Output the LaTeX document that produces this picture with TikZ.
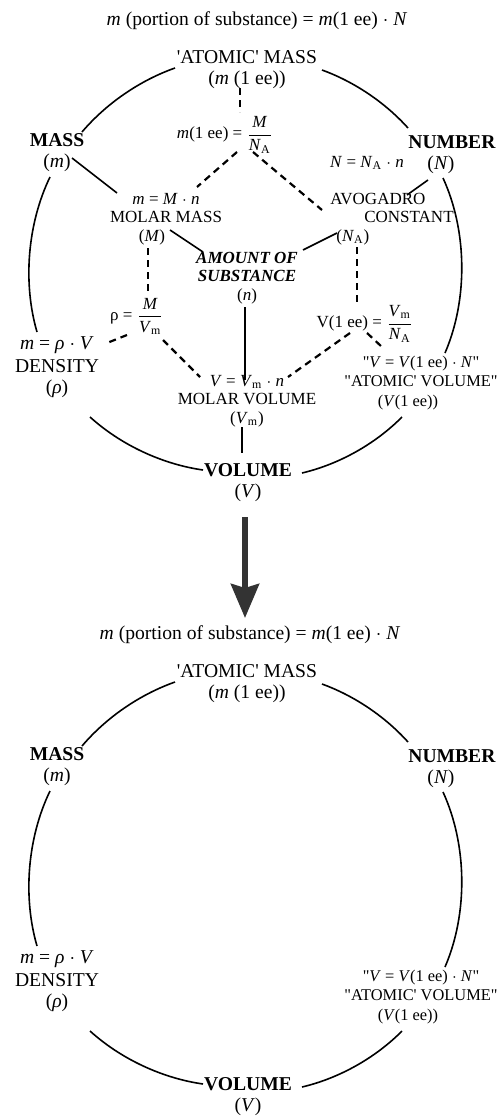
\documentclass[tikz,border=0pt]{standalone}
\usepackage{amsmath}
\usepackage{fontspec}
\setmainfont{Liberation Serif}
\usepackage{tikz}
\usetikzlibrary{
	arrows.meta,
	calc
}

\newcommand{\NA}{\textit{N}\textsubscript{A}}
\newcommand{\Vm}{\textit{V}\textsubscript{m}}

\begin{document}
\begin{tikzpicture}[
			x=0.5pt, y=-0.5pt,
			outer/.style={align=center, inner sep=1pt, font=\fontsize{9.8}{10.5}\selectfont},
			inner/.style={align=center, inner sep=1pt, font=\fontsize{8.5}{9.2}\selectfont},
			ring/.style={line width=0.8pt, bend left=#1, looseness=0.85},
			link/.style={line width=0.8pt},
			dlink/.style={line width=1.1pt, dash pattern=on 3.5pt off 2.5pt},
			bigarrow/.style={-{Stealth[length=17pt, width=14pt, inset=2pt]}, line width=3pt, black!80}
		]
		\useasboundingbox (0,0) rectangle (501,1119);

		% the ring of quantities, once with the inner network and once without
		\foreach \p/\dy/\tx in {t/0/257, b/614/250} {
			\begin{scope}[name prefix=\p-]
				\node[outer] (title) at (\tx,21+\dy) {\textit{m} (portion of substance) = \textit{m}(1 ee) $\cdot$ \textit{N}};
				\node[outer] (atomic) at (247,70+\dy) {\textquotesingle ATOMIC\textquotesingle\ MASS\\(\textit{m} (1 ee))};
				\node[outer] (mass) at (57,153+\dy) {\textbf{MASS}\\(\textit{m})};
				\node[outer] (number) at (452,155+\dy) {\textbf{NUMBER}\\(\textit{N})\hspace*{11pt}};
				\node[outer] (density) at (57,367+\dy) {\textit{m} = \textit{ρ} $\cdot$ \textit{V}\\[1pt]DENSITY\\(\textit{ρ})};
				\node[outer] (volume) at (248,483+\dy) {\textbf{VOLUME}\\(\textit{V})};
				\node[outer, font=\fontsize{8.2}{9.6}\selectfont] (atomvol) at (421,383+\dy) {\textquotedbl\textit{V} = \textit{V}(1 ee) $\cdot$ \textit{N}\textquotedbl\\\textquotedbl ATOMIC\textquotesingle\ VOLUME\textquotedbl\\(\textit{V}(1 ee))\hspace*{13pt}};

				\draw[ring=15] ($(mass)+(25,-21)$) to ($(atomic)+(-72,-2)$);
				\draw[ring=14] ($(atomic)+(75,0)$) to ($(number)+(-44,-27)$);
				\draw[ring=24] ($(number)+(-9,23)$) to ($(atomvol)+(24,-30)$);
				\draw[ring=16] ($(atomvol)+(-19,34)$) to ($(volume)+(54,-10)$);
				\draw[ring=17] ($(volume)+(-45,-13)$) to ($(density)+(33,50)$);
				\draw[ring=21] ($(density)+(-20,-35)$) to ($(mass)+(-7,24)$);
			\end{scope}
		}

		% inner network (upper picture only)
		\begin{scope}[name prefix=t-]
			\node[inner] (m1ee) at (225,135) {\textit{m}(1 ee) = $\dfrac{\mbox{\textit{M}}}{\mbox{\NA}}$};
			\node[inner] (molarmass) at (166,219) {\textit{m} = \textit{M} $\cdot$ \textit{n}\\MOLAR MASS\\(\textit{M})\hspace*{14pt}};
			\node[inner] (nrel) at (367,163) {\textit{N} = \NA\ $\cdot$ \textit{n}};
			\node[inner, align=left] (avogadro) at (392,219) {AVOGADRO\\\hspace*{17pt}CONSTANT\\\hspace*{3pt}(\NA)};
			\node[inner] (amount) at (247,278) {\textbf{\textit{AMOUNT OF}}\\\textbf{\textit{SUBSTANCE}}\\(\textit{n})};
			\node[inner] (rho) at (137,316) {ρ = $\dfrac{\mbox{\textit{M}}}{\mbox{\Vm}}$};
			\node[inner] (v1ee) at (365,324) {V(1 ee) = $\dfrac{\mbox{\Vm}}{\mbox{\NA}}$};
			\node[inner] (molarvol) at (247,401) {\textit{V} = \Vm\ $\cdot$ \textit{n}\\MOLAR VOLUME\\(\Vm)};

			\draw[dlink] ($(atomic)+(-7,18)$) -- ($(m1ee)+(15,-23)$);
			\draw[dlink] ($(m1ee)+(12,17)$) -- ($(molarmass)+(31,-32)$);
			\draw[dlink] ($(m1ee)+(28,17)$) -- ($(avogadro)+(-70,-9)$);
			\draw[link] ($(mass)+(15,5)$) -- ($(molarmass)+(-49,-26)$);
			\draw[link] ($(number)+(-24,25)$) -- ($(avogadro)+(15,-24)$);
			\draw[link] ($(molarmass)+(4,11)$) -- ($(amount)+(-44,-26)$);
			\draw[link] ($(avogadro)+(-55,14)$) -- ($(amount)+(56,-28)$);
			\draw[dlink] ($(molarmass)+(-18,29)$) -- ($(rho)+(11,-23)$);
			\draw[dlink] ($(avogadro)+(-35,28)$) -- ($(v1ee)+(-8,-21)$);
			\draw[link] ($(amount)+(-2,29)$) -- ($(molarvol)+(-2,-21)$);
			\draw[link] ($(molarvol)+(-5,26)$) -- ($(volume)+(-6,-30)$);
			\draw[dlink] ($(rho)+(26,24)$) -- ($(molarvol)+(-47,-24)$);
			\draw[dlink] ($(v1ee)+(-15,9)$) -- ($(molarvol)+(41,-24)$);
			\draw[dlink] ($(rho)+(-10,19)$) -- ($(density)+(50,-24)$);
			\draw[dlink] ($(v1ee)+(2,9)$) -- ($(atomvol)+(-39,-36)$);
		\end{scope}

		\draw[bigarrow] ($(t-volume)+(-3,34)$) -- ($(b-title)+(-5,-17)$);
	\end{tikzpicture}
\end{document}
